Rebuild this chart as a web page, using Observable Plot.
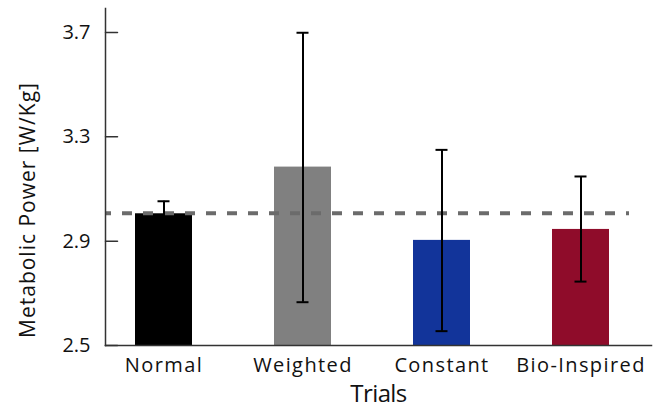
<!DOCTYPE html>
<html>
<head>
<meta charset="utf-8">
<script src="https://cdn.jsdelivr.net/npm/d3@7"></script>
<script src="https://cdn.jsdelivr.net/npm/@observablehq/plot@0.6"></script>
<style>
  html, body { margin: 0; padding: 0; background: #fff; }
  svg { display: block; }
  .xt text { letter-spacing: 1.4px; }
  .yl text { letter-spacing: 1px; }
  .tl text { letter-spacing: -0.6px; }
</style>
</head>
<body>
<div id="chart"></div>
<script>
const trials = ["Normal", "Weighted", "Constant", "Bio-Inspired"];
const means = [3.005, 3.184, 2.903, 2.945];
const errLow = [2.957, 2.666, 2.555, 2.745];
const errHigh = [3.053, 3.699, 3.250, 3.148];
const colors = ["#000000", "#808080", "#12349a", "#8f0c2a"];
const baseline = 3.007;
const yTicks = [2.5, 2.9, 3.3, 3.7];
const yLabel = "Metabolic Power [W/Kg]";
const xLabel = "Trials";

const data = trials.map((t, i) => ({trial: t, mean: means[i], lo: errLow[i], hi: errHigh[i], color: colors[i]}));

const font = "'Open Sans', sans-serif";
const plot = Plot.plot({
  width: 666,
  height: 408,
  marginTop: 8,
  marginBottom: 63,
  marginLeft: 105,
  marginRight: 15,
  style: {fontFamily: font, color: "#111", background: "#fff"},
  x: {domain: trials, range: [92, 651], paddingInner: 0.59, paddingOuter: 0.3},
  y: {domain: [2.5, 3.792]},
  marks: [
    Plot.barY(data, {x: "trial", y1: 2.5, y2: "mean", fill: "color"}),
    Plot.ruleY([baseline], {stroke: "#6b6b6b", strokeWidth: 4, strokeDasharray: "10,11", strokeDashoffset: 4, insetRight: 22}),
    Plot.ruleX(data, {x: "trial", y1: "lo", y2: "hi", stroke: "#000", strokeWidth: 2}),
    Plot.tickY(data, {x: "trial", y: "hi", stroke: "#000", strokeWidth: 2, insetLeft: 22.5, insetRight: 22.5}),
    Plot.tickY(data, {x: "trial", y: "lo", stroke: "#000", strokeWidth: 2, insetLeft: 22.5, insetRight: 22.5}),
    Plot.frame({anchor: "left", stroke: "#333", strokeWidth: 1.5}),
    Plot.frame({anchor: "bottom", stroke: "#333", strokeWidth: 1.5}),
    Plot.vector(yTicks, {
      y: d => d, frameAnchor: "left", length: 12, rotate: 90, anchor: "start",
      stroke: "#333", strokeWidth: 1.5,
      shape: {draw(context, l) { context.moveTo(0, 0); context.lineTo(0, -l); }}
    }),
    Plot.axisY({ticks: yTicks, tickSize: 0, tickPadding: 15, tickFormat: d3.format(".1f"), fontSize: 20, label: null}),
    Plot.axisX({tickSize: 0, tickPadding: 12, fontSize: 20, label: null, className: "xt"}),
    Plot.text([xLabel], {frameAnchor: "bottom", dy: 56, fontSize: 24, fill: "#111", className: "tl"}),
    Plot.text([yLabel], {frameAnchor: "left", textAnchor: "middle", rotate: -90, dx: -77, dy: 33, fontSize: 21, fill: "#111", className: "yl"})
  ]
});
document.getElementById("chart").appendChild(plot);
</script>
</body>
</html>
